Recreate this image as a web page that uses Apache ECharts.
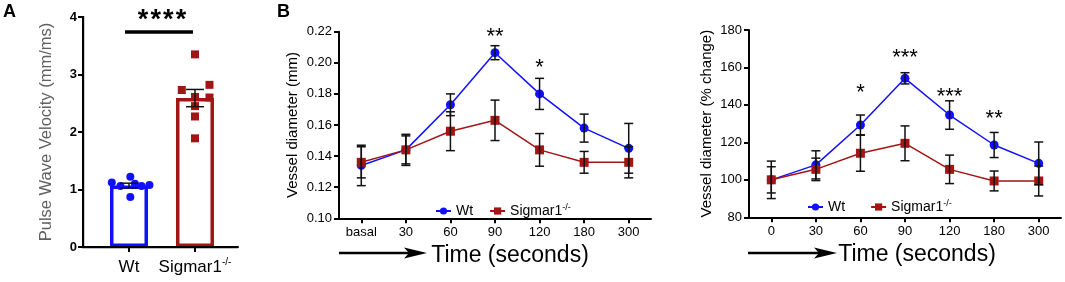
<!DOCTYPE html>
<html>
<head>
<meta charset="utf-8">
<script src="https://cdn.jsdelivr.net/npm/echarts@6/dist/echarts.min.js"></script>
<style>
  html, body { margin: 0; padding: 0; background: #fff; }
  #chart { width: 1065px; height: 282px; }
</style>
</head>
<body>
<div id="chart"></div>
<script>
// panel A: pulse wave velocity
const groups = ['Wt', 'Sigmar1'];
const pwvMean = [1.07, 2.59];
const pwvSem = [0.04, 0.15];
const pwvWt = [1.12, 1.06, 1.22, 1.10, 1.06, 1.08, 0.87];
const pwvWtJitter = [-0.26, -0.13, 0.02, 0.09, 0.19, 0.31, 0.02];
const pwvKo = [2.73, 3.35, 2.82, 2.61, 2.60, 2.45, 2.27, 1.89];
const pwvKoJitter = [-0.20, 0, 0.22, 0, 0.22, 0, 0, 0];
const pwvSigY = 3.74;
const pwvSigText = '****';
const pwvTicks = [0, 1, 2, 3, 4];

// panel B left: vessel diameter (mm)
const timeMm = ['basal', '30', '60', '90', '120', '180', '300'];
const diamWt = [0.134, 0.144, 0.173, 0.2065, 0.180, 0.158, 0.145];
const diamWtErr = [0.013, 0.009, 0.007, 0.0045, 0.010, 0.009, 0.016];
const diamKo = [0.136, 0.144, 0.156, 0.163, 0.144, 0.136, 0.136];
const diamKoErr = [0.010, 0.010, 0.0125, 0.013, 0.0105, 0.007, 0.010];
const diamStarAt = [3, 4];
const diamStarText = ['**', '*'];
const diamStarY = [0.2198, 0.1999];

// panel B right: vessel diameter (% change)
const timePct = ['0', '30', '60', '90', '120', '180', '300'];
const pctWt = [100, 108, 129.3, 154.2, 134.6, 118.6, 108.8];
const pctWtErr = [10, 7.5, 5.3, 3, 7.6, 6.7, 11.4];
const pctKo = [100, 105.6, 114.2, 119.5, 105.6, 99.4, 99.4];
const pctKoErr = [7, 6, 9.6, 9.3, 7.6, 5.3, 8];
const pctStarAt = [2, 3, 4, 5];
const pctStarText = ['*', '***', '***', '**'];
const pctStarY = [149.0, 167.7, 146.9, 135.2];

const BLUE = '#1010ff';
const RED = '#a31515';
const FONT = 'Liberation Sans, Arial, sans-serif';

// group slots on panel A's x axis (first group sits this far from the y axis)
const X0 = 0.697;
const XMAX = 2.349;
const groupX = groups.map((g, i) => X0 + i);

let myChart = echarts.init(document.getElementById('chart'));

function errorBars(axis, xs, means, errs, capHalf, lw) {
	return {
		type: 'custom',
		xAxisIndex: axis,
		yAxisIndex: axis,
		z: 6,
		silent: true,
		data: means.map((m, i) => [xs[i], m - errs[i], m + errs[i]]),
		renderItem: function (params, api) {
			const lo = api.coord([api.value(0), api.value(1)]);
			const hi = api.coord([api.value(0), api.value(2)]);
			const st = { stroke: '#111', lineWidth: lw };
			return {
				type: 'group',
				children: [
					{ type: 'line', shape: { x1: lo[0], y1: lo[1], x2: hi[0], y2: hi[1] }, style: st },
					{ type: 'line', shape: { x1: lo[0] - capHalf, y1: lo[1], x2: lo[0] + capHalf, y2: lo[1] }, style: st },
					{ type: 'line', shape: { x1: hi[0] - capHalf, y1: hi[1], x2: hi[0] + capHalf, y2: hi[1] }, style: st }
				]
			};
		}
	};
}

function stars(axis, at, texts, ys, size) {
	return {
		type: 'custom',
		xAxisIndex: axis,
		yAxisIndex: axis,
		z: 7,
		silent: true,
		data: at.map((a, i) => [a, ys[i]]),
		renderItem: function (params, api) {
			const p = api.coord([api.value(0), api.value(1)]);
			return {
				type: 'text',
				x: p[0],
				y: p[1] + size * 0.22,
				style: {
					text: texts[params.dataIndex],
					fontSize: size,
					fontFamily: FONT,
					fill: '#000',
					align: 'center',
					verticalAlign: 'middle'
				}
			};
		}
	};
}

function axisLine() {
	return { show: true, lineStyle: { color: '#000', width: 2 } };
}
function axisTick(extra) {
	return Object.assign({ show: true, length: 5, lineStyle: { color: '#000', width: 2 } }, extra || {});
}

function catAxis(idx, labels) {
	return {
		type: 'category',
		gridIndex: idx,
		position: 'bottom',
		data: labels,
		boundaryGap: true,
		axisLine: axisLine(),
		axisTick: axisTick({ alignWithLabel: true }),
		axisLabel: { color: '#000', fontSize: 13, fontFamily: FONT, margin: 8 },
		name: 'Time (seconds)',
		nameLocation: 'middle',
		nameGap: 26,
		nameTextStyle: { color: '#000', fontSize: 23, fontFamily: FONT, padding: [0, 0, 0, idx === 1 ? 30 : 24] }
	};
}

function legendFor(left, top, gap) {
	return {
		left: left,
		top: top,
		orient: 'horizontal',
		itemWidth: 15,
		itemHeight: 9,
		itemGap: gap,
		data: ['Wt', 'Sigmar1'],
		formatter: function (n) { return n === 'Sigmar1' ? 'Sigmar1{sup|-/-}' : n; },
		textStyle: {
			color: '#000', fontSize: 14, fontFamily: FONT, lineHeight: 16,
			rich: { sup: { fontSize: 9, fontFamily: FONT, verticalAlign: 'top', lineHeight: 16 } }
		}
	};
}

function lineSeries(name, axis, values, color, symbol) {
	return {
		name: name,
		type: 'line',
		xAxisIndex: axis,
		yAxisIndex: axis,
		data: values,
		symbol: symbol,
		symbolSize: 9,
		showSymbol: true,
		lineStyle: { width: 1.5, color: color },
		itemStyle: { color: color, borderWidth: 0 },
		z: 4,
		silent: true
	};
}

const idx = (arr) => arr.map((v, i) => i);

let option = {
	animation: false,
	textStyle: { fontFamily: FONT },
	grid: [
		{ left: 83, top: 17, width: 155, height: 230 },
		{ left: 339, top: 31.7, width: 312, height: 186.6 },
		{ left: 749, top: 30, width: 312, height: 187.3 }
	],
	legend: [legendFor(430, 198, 16), legendFor(802, 194, 25)],
	xAxis: [
		{
			type: 'value',
			gridIndex: 0,
			position: 'bottom',
			min: 0,
			max: XMAX,
			splitLine: { show: false },
			axisLine: axisLine(),
			axisTick: axisTick({ customValues: groupX }),
			axisLabel: {
				customValues: groupX,
				color: '#000', fontSize: 17, fontFamily: FONT, margin: 10, lineHeight: 20,
				formatter: function (v) {
					const i = Math.round(v - X0);
					return i === 1 ? groups[1] + '{sup|-/-}' : groups[0];
				},
				rich: { sup: { fontSize: 10, fontFamily: FONT, verticalAlign: 'top', lineHeight: 20 } }
			}
		},
		catAxis(1, timeMm),
		catAxis(2, timePct)
	],
	yAxis: [
		{
			type: 'value',
			gridIndex: 0,
			position: 'left',
			min: pwvTicks[0],
			max: pwvTicks[pwvTicks.length - 1],
			interval: 1,
			splitLine: { show: false },
			axisLine: axisLine(),
			axisTick: axisTick(),
			axisLabel: { color: '#000', fontSize: 13, fontWeight: 'bold', fontFamily: FONT, margin: 6 },
			name: 'Pulse Wave Velocity (mm/ms)',
			nameLocation: 'middle',
			nameGap: 28,
			nameTextStyle: { color: '#606060', fontSize: 16.5, fontFamily: FONT }
		},
		{
			type: 'value',
			gridIndex: 1,
			position: 'left',
			min: 0.10,
			max: 0.22,
			interval: 0.02,
			splitLine: { show: false },
			axisLine: axisLine(),
			axisTick: axisTick(),
			axisLabel: { color: '#000', fontSize: 13, fontFamily: FONT, margin: 7, formatter: v => v.toFixed(2) },
			name: 'Vessel diameter (mm)',
			nameLocation: 'middle',
			nameGap: 38.5,
			nameTextStyle: { color: '#000', fontSize: 15, fontFamily: FONT }
		},
		{
			type: 'value',
			gridIndex: 2,
			position: 'left',
			min: 80,
			max: 180,
			interval: 20,
			splitLine: { show: false },
			axisLine: axisLine(),
			axisTick: axisTick(),
			axisLabel: { color: '#000', fontSize: 13, fontFamily: FONT, margin: 7 },
			name: 'Vessel diameter (% change)',
			nameLocation: 'middle',
			nameGap: 34.5,
			nameTextStyle: { color: '#000', fontSize: 15, fontFamily: FONT }
		}
	],
	series: [
		{
			name: 'PWV mean',
			type: 'bar',
			xAxisIndex: 0,
			yAxisIndex: 0,
			barWidth: 38,
			silent: true,
			data: pwvMean.map((v, i) => ({
				value: [groupX[i], v],
				itemStyle: { color: '#fff', borderColor: i === 0 ? BLUE : RED, borderWidth: 3.5 }
			})),
			z: 2
		},
		{
			name: 'PWV Wt',
			type: 'scatter',
			xAxisIndex: 0,
			yAxisIndex: 0,
			symbol: 'circle',
			symbolSize: 8,
			itemStyle: { color: BLUE, opacity: 1 },
			data: pwvWt.map((v, i) => [groupX[0] + pwvWtJitter[i], v]),
			z: 4,
			silent: true
		},
		{
			name: 'PWV Sigmar1',
			type: 'scatter',
			xAxisIndex: 0,
			yAxisIndex: 0,
			symbol: 'rect',
			symbolSize: 8,
			itemStyle: { color: RED, opacity: 1 },
			data: pwvKo.map((v, i) => [groupX[1] + pwvKoJitter[i], v]),
			z: 4,
			silent: true
		},
		errorBars(0, groupX, pwvMean, pwvSem, 9, 1.5),
		{
			type: 'custom',
			xAxisIndex: 0,
			yAxisIndex: 0,
			z: 7,
			silent: true,
			data: [[groupX[0], groupX[1], pwvSigY]],
			renderItem: function (params, api) {
				const a = api.coord([api.value(0), api.value(2)]);
				const b = api.coord([api.value(1), api.value(2)]);
				const mid = (a[0] + b[0]) / 2;
				const n = pwvSigText.length;
				const kids = [
					{ type: 'line', shape: { x1: a[0] - 4, y1: a[1], x2: b[0] - 2, y2: b[1] }, style: { stroke: '#000', lineWidth: 3.5 } }
				];
				for (let k = 0; k < n; k++) {
					kids.push({
						type: 'text', x: mid + (k - (n - 1) / 2) * 12.7, y: a[1] - 11,
						style: { text: '*', fontSize: 27, fontWeight: 'bold', fontFamily: FONT, fill: '#000', align: 'center', verticalAlign: 'middle' }
					});
				}
				return { type: 'group', children: kids };
			}
		},

		lineSeries('Wt', 1, diamWt, BLUE, 'circle'),
		lineSeries('Sigmar1', 1, diamKo, RED, 'rect'),
		errorBars(1, idx(timeMm), diamWt, diamWtErr, 4.5, 1.5),
		errorBars(1, idx(timeMm), diamKo, diamKoErr, 4.5, 1.5),
		stars(1, diamStarAt, diamStarText, diamStarY, 22),

		lineSeries('Wt', 2, pctWt, BLUE, 'circle'),
		lineSeries('Sigmar1', 2, pctKo, RED, 'rect'),
		errorBars(2, idx(timePct), pctWt, pctWtErr, 4.5, 1.5),
		errorBars(2, idx(timePct), pctKo, pctKoErr, 4.5, 1.5),
		stars(2, pctStarAt, pctStarText, pctStarY, 22)
	],
	graphic: [
		{ type: 'text', left: 3, top: 3, style: { text: 'A', fontSize: 18, fontWeight: 'bold', fontFamily: FONT, fill: '#000' } },
		{ type: 'text', left: 277, top: 3, style: { text: 'B', fontSize: 18, fontWeight: 'bold', fontFamily: FONT, fill: '#000' } },
		// panel A frame, as filled strips
		{ type: 'rect', z: 100, shape: { x: 82, y: 16, width: 2.2, height: 232 }, style: { fill: '#000' } },
		{ type: 'rect', z: 100, shape: { x: 82, y: 246, width: 156, height: 2.2 }, style: { fill: '#000' } },
		// arrows in front of the time titles
		{ type: 'line', shape: { x1: 339, y1: 253, x2: 412, y2: 253 }, style: { stroke: '#000', lineWidth: 2.5 } },
		{ type: 'polygon', shape: { points: [[427, 253], [404, 247.5], [409, 253], [404, 258.5]] }, style: { fill: '#000' } },
		{ type: 'line', shape: { x1: 748, y1: 253, x2: 822, y2: 253 }, style: { stroke: '#000', lineWidth: 2.5 } },
		{ type: 'polygon', shape: { points: [[837, 253], [814, 247.5], [819, 253], [814, 258.5]] }, style: { fill: '#000' } }
	]
};

myChart.setOption(option);
</script>
</body>
</html>
